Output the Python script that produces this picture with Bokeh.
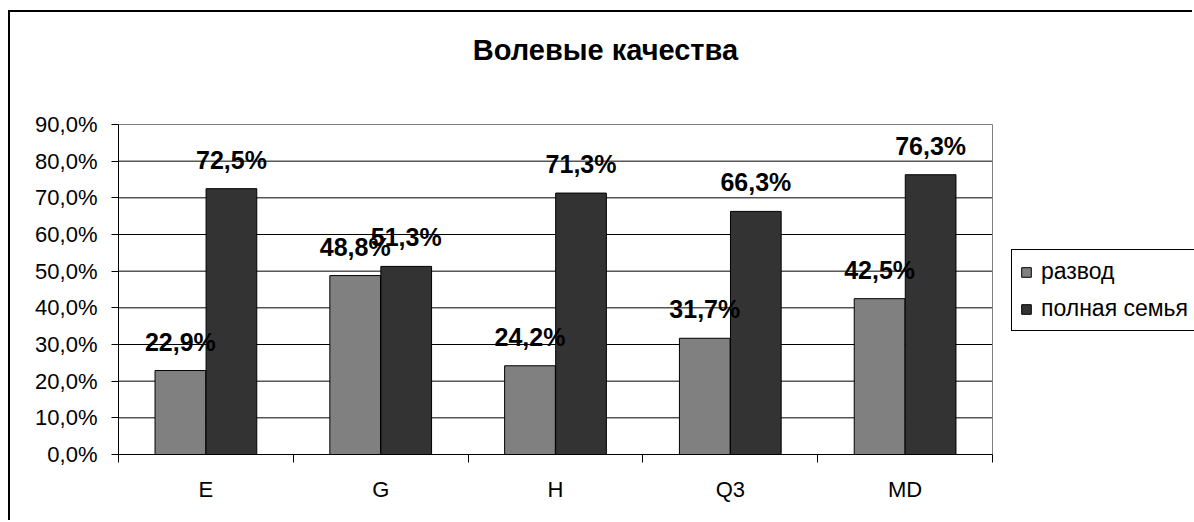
from bokeh.plotting import figure
from bokeh.models import (ColumnDataSource, FixedTicker, Label,
                          Legend, LegendItem)
from bokeh.core.properties import value
from bokeh.embed import file_html
from bokeh.resources import INLINE

title = "Волевые качества"
categories = ["E", "G", "H", "Q3", "MD"]
series_names = ["развод", "полная семья"]
razvod = [22.9, 48.8, 24.2, 31.7, 42.5]
polnaya = [72.5, 51.3, 71.3, 66.3, 76.3]
y_ticks = [0, 10, 20, 30, 40, 50, 60, 70, 80, 90]
colors = ["#808080", "#333333"]

FONT = "Liberation Sans"

# layout (pixels)
CANVAS_W, CANVAS_H = 1184, 510
BORDER_L, BORDER_B = 108, 68
PLOT_W, PLOT_H = 874, 330          # the chart's plot area
FRAME_W = CANVAS_W - BORDER_L
FRAME_H = CANVAS_H - BORDER_B
n = len(categories)
y_max = y_ticks[-1]
x_end = n * FRAME_W / PLOT_W
y_end = y_max * FRAME_H / PLOT_H


def fmt(v):
    return f"{v:.1f}".replace(".", ",") + "%"


idx = list(range(n))
src1 = ColumnDataSource(dict(x=[i + 0.5 - 0.146 for i in idx], top=razvod,
                             lab=[fmt(v) for v in razvod]))
src2 = ColumnDataSource(dict(x=[i + 0.5 + 0.146 for i in idx], top=polnaya,
                             lab=[fmt(v) for v in polnaya]))

p = figure(width=CANVAS_W, height=CANVAS_H, output_backend="svg",
           toolbar_location=None, title=None,
           x_range=(0, x_end), y_range=(0, y_end),
           min_border_left=BORDER_L, min_border_right=0,
           min_border_top=0, min_border_bottom=BORDER_B)
p.styles = {"margin-left": "8px", "margin-top": "10px",
            "border-left": "2px solid black", "border-top": "2px solid black"}
p.background_fill_color = "white"
p.border_fill_color = "white"
p.outline_line_color = None
p.xgrid.visible = False
p.ygrid.visible = False

# gridlines of the plot area (behind the bars)
inner = y_ticks[1:-1]
p.segment(x0=[0] * len(inner), x1=[n] * len(inner), y0=inner, y1=inner,
          line_color="black", line_width=1)
# plot area border: top and right in gray
p.segment(x0=[0, n], x1=[n, n], y0=[y_max, 0], y1=[y_max, y_max],
          line_color="#808080", line_width=1)

r1 = p.vbar(x="x", top="top", width=0.29, bottom=0, source=src1,
            fill_color=colors[0], line_color="black", line_width=1)
r2 = p.vbar(x="x", top="top", width=0.29, bottom=0, source=src2,
            fill_color=colors[1], line_color="black", line_width=1)

for s in (src1, src2):
    p.text(x="x", y="top", text="lab", source=s, text_align="center",
           text_baseline="alphabetic", y_offset=-29,
           text_font=value(FONT), text_font_size="25px",
           text_font_style="bold", text_color="black")

# x axis
xa = p.xaxis[0]
xa.bounds = (0, n)
xa.ticker = FixedTicker(ticks=[i + 0.5 for i in idx],
                        minor_ticks=list(range(n + 1)))
xa.major_label_overrides = {i + 0.5: c for i, c in zip(idx, categories)}
xa.major_tick_out = 0
xa.major_tick_in = 0
xa.minor_tick_out = 8
xa.minor_tick_in = 0
xa.minor_tick_line_color = "black"
xa.axis_line_color = "black"
xa.major_label_text_font = FONT
xa.major_label_text_font_size = "22px"
xa.major_label_text_color = "black"
xa.major_label_standoff = 14

# y axis
ya = p.yaxis[0]
ya.bounds = (0, y_max)
ya.ticker = FixedTicker(ticks=y_ticks, minor_ticks=[])
ya.major_label_overrides = {t: fmt(t) for t in y_ticks}
ya.major_tick_out = 7
ya.major_tick_in = 0
ya.major_tick_line_color = "black"
ya.axis_line_color = "black"
ya.major_label_text_font = FONT
ya.major_label_text_font_size = "22px"
ya.major_label_text_color = "black"
ya.major_label_standoff = 14

legend = Legend(items=[LegendItem(label=series_names[0], renderers=[r1]),
                       LegendItem(label=series_names[1], renderers=[r2])],
                location=(893, 123), orientation="vertical",
                label_text_font=FONT, label_text_font_size="23px",
                label_text_color="black",
                glyph_width=12, glyph_height=12, label_standoff=9,
                label_height=27, spacing=10, padding=8, margin=0,
                border_line_color="black", border_line_width=1,
                border_line_alpha=1.0,
                background_fill_color="white", background_fill_alpha=1)
p.add_layout(legend, "center")

# chart title, centred over the chart (screen px converted to data units)
title_cx = (605 - 118) / (PLOT_W / n)
title_cy = (454 - 49) / (PLOT_H / y_max)
p.add_layout(Label(x=title_cx, y=title_cy, text=title, text_align="center",
                   text_baseline="middle", text_font=FONT,
                   text_font_size="29px", text_font_style="bold",
                   text_color="black"))

open("out.html", "w").write(file_html(p, INLINE))
